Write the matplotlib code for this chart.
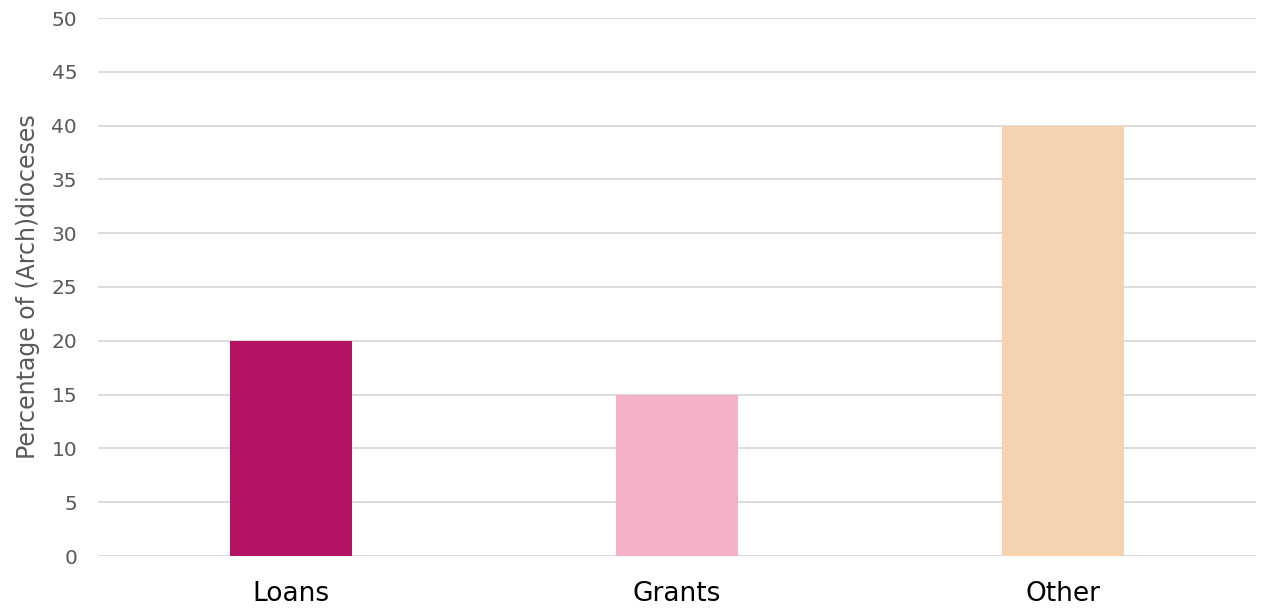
import matplotlib
matplotlib.use("Agg")
import matplotlib.pyplot as plt

categories = ["Loans", "Grants", "Other"]
values = [20, 15, 40]
colors = ["#B31362", "#F4B1C6", "#F5D3AF"]
yticks = [0, 5, 10, 15, 20, 25, 30, 35, 40, 45, 50]
ylabel = "Percentage of (Arch)dioceses"

plt.rcParams['font.family'] = ['DejaVu Sans']

fig = plt.figure(figsize=(12.68, 6.09), dpi=100)
ax = fig.add_axes([98/1268, 53/609, (1256-98)/1268, (556-18)/609])

x = list(range(len(categories)))
ax.bar(x, values, width=0.314, color=colors, zorder=3)
ax.set_xlim(-0.5, len(categories) - 0.5)
ax.set_ylim(0, 50)
ax.set_yticks(yticks)
ax.set_yticklabels([str(v) for v in yticks], fontsize=14.5, color="#595959")
ax.set_xticks(x)
ax.set_xticklabels(categories, fontsize=19, color="#000000")
ax.grid(axis="y", color="#D9D9D9", linewidth=1.3, zorder=0)
for s in ax.spines.values():
    s.set_visible(False)
ax.tick_params(axis="y", length=0, pad=15)
ax.tick_params(axis="x", length=0, pad=18)
ax.set_ylabel(ylabel, fontsize=17, color="#595959", labelpad=8)

fig.savefig("out.png", dpi=100)
